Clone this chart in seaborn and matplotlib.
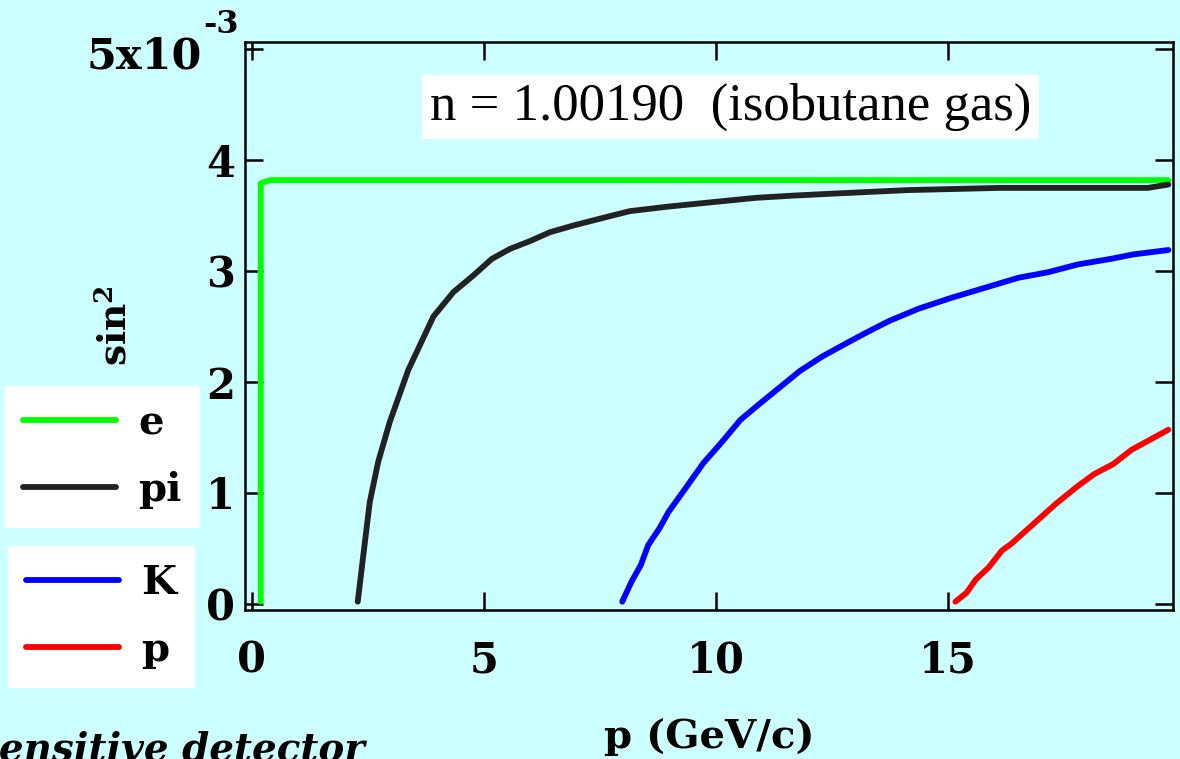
import numpy as np
import pandas as pd
import seaborn as sns
import matplotlib.pyplot as plt
from matplotlib.transforms import blended_transform_factory

# Cherenkov sin^2(theta) vs momentum, values in units of 1e-3
e_p = [0.19, 0.19, 0.39, 19.75]
e_s = [0.02, 3.79, 3.82, 3.82]

pi_p = [2.28, 2.40, 2.54, 2.72, 2.97, 3.37, 3.91, 4.34, 4.77, 5.17, 5.56, 5.99, 6.42,
        6.92, 7.57, 8.14, 8.94, 9.89, 10.85, 11.65, 12.61, 14.13, 16.12, 19.31, 19.75]
pi_s = [0.02, 0.44, 0.92, 1.28, 1.64, 2.11, 2.59, 2.81, 2.96, 3.11, 3.20, 3.27, 3.35,
        3.41, 3.48, 3.54, 3.58, 3.62, 3.66, 3.68, 3.70, 3.73, 3.75, 3.75, 3.78]

k_p = [7.98, 8.18, 8.38, 8.54, 8.78, 8.98, 9.34, 9.73, 10.13, 10.53, 10.93, 11.37, 11.81,
       12.29, 12.77, 13.17, 13.73, 14.36, 15.08, 15.80, 16.52, 17.16, 17.80, 18.51, 18.99, 19.75]
k_s = [0.02, 0.20, 0.35, 0.53, 0.68, 0.83, 1.04, 1.27, 1.46, 1.66, 1.80, 1.95, 2.10,
       2.23, 2.34, 2.43, 2.55, 2.66, 2.76, 2.85, 2.94, 2.99, 3.06, 3.11, 3.15, 3.19]

pr_p = [15.16, 15.40, 15.60, 15.88, 16.16, 16.36, 16.60, 16.92, 17.32, 17.76, 18.15,
        18.56, 18.96, 19.40, 19.75]
pr_s = [0.02, 0.10, 0.22, 0.33, 0.48, 0.54, 0.63, 0.75, 0.90, 1.05, 1.17, 1.26, 1.39,
        1.49, 1.57]

names = ['e', 'pi', 'K', 'p']
colors = {'e': '#00ff00', 'pi': '#222222', 'K': '#0000ff', 'p': '#ff0000'}
xticks = [0, 5, 10, 15]
yticks = [0, 1, 2, 3, 4, 5]
ylabels = ['0', '1', '2', '3', '4', '']   # top label drawn separately as 5x10^-3

df = pd.concat([
    pd.DataFrame({'p': e_p, 'sin2': e_s, 'particle': 'e'}),
    pd.DataFrame({'p': pi_p, 'sin2': pi_s, 'particle': 'pi'}),
    pd.DataFrame({'p': k_p, 'sin2': k_s, 'particle': 'K'}),
    pd.DataFrame({'p': pr_p, 'sin2': pr_s, 'particle': 'p'}),
], ignore_index=True)

sns.set_style('ticks')
plt.rcParams['font.family'] = ['DejaVu Serif']
plt.rcParams['font.weight'] = 'bold'
plt.rcParams['axes.labelweight'] = 'bold'
plt.rcParams['axes.labelcolor'] = 'black'
plt.rcParams['text.color'] = 'black'
plt.rcParams['mathtext.fontset'] = 'custom'
plt.rcParams['mathtext.rm'] = 'DejaVu Serif:bold'
plt.rcParams['mathtext.it'] = 'DejaVu Serif:bold:italic'
plt.rcParams['mathtext.bf'] = 'DejaVu Serif:bold'

bg = '#ccffff'
fig = plt.figure(figsize=(11.8, 7.59), dpi=100, facecolor=bg)
ax = fig.add_axes([245/1180, 1-610/759, 928/1180, 568/759])
ax.set_facecolor(bg)

sns.lineplot(data=df, x='p', y='sin2', hue='particle', hue_order=names, palette=colors,
             estimator=None, sort=False, linewidth=4.2, legend=False, ax=ax)

ax.set_xlim(-0.15, 19.85)
ax.set_ylim(-0.055, 5.065)
ax.set_xticks(xticks)
ax.set_yticks(yticks)
ax.set_yticklabels(ylabels)
ax.tick_params(direction='in', length=13, width=1.8, top=True, right=True,
               labelsize=30, colors='black')
ax.tick_params(axis='x', pad=21)
ax.tick_params(axis='y', pad=7)
for s in ax.spines.values():
    s.set_linewidth(1.8)
    s.set_color('black')

# top y label "5x10" with a raised "-3"
tr = blended_transform_factory(ax.transAxes, ax.transData)
ax.text(-0.046, 4.93, '5x10', transform=tr, ha='right', va='center', fontsize=31)
ax.text(-0.045, 5.15, '-3', transform=tr, ha='left', va='baseline', fontsize=23)

ax.set_xlabel('p (GeV/c)', fontsize=29)
ax.xaxis.set_label_coords(0.5, -0.19)
ax.set_ylabel('sin$^2$', fontsize=27)
ax.yaxis.set_label_coords(-0.119, 0.5)

ax.text(0.523, 0.886, 'n = 1.00190  (isobutane gas)', transform=ax.transAxes,
        ha='center', va='center', fontsize=38, family='Liberation Serif', weight='normal',
        bbox=dict(boxstyle='square,pad=0.15', fc='white', ec='none'))

handles = ax.get_lines()[:4]
legkw = dict(loc='upper left', fontsize=29, handlelength=2.3, handletextpad=0.55,
             labelspacing=0.72, borderpad=0.45, borderaxespad=0, frameon=True,
             fancybox=False, framealpha=1, facecolor='white', edgecolor='white',
             bbox_transform=fig.transFigure)
fig.legend(handles[:2], names[:2], bbox_to_anchor=(5/1180, 1-386/759), **legkw)
fig.legend(handles[2:], names[2:], bbox_to_anchor=(8/1180, 1-546/759), **legkw)

fig.text(365/1180, 1-761/759, 'sensitive detector', ha='right', va='baseline',
         fontsize=28, style='italic', weight='bold')

fig.savefig('out.png', dpi=100, facecolor=bg)
